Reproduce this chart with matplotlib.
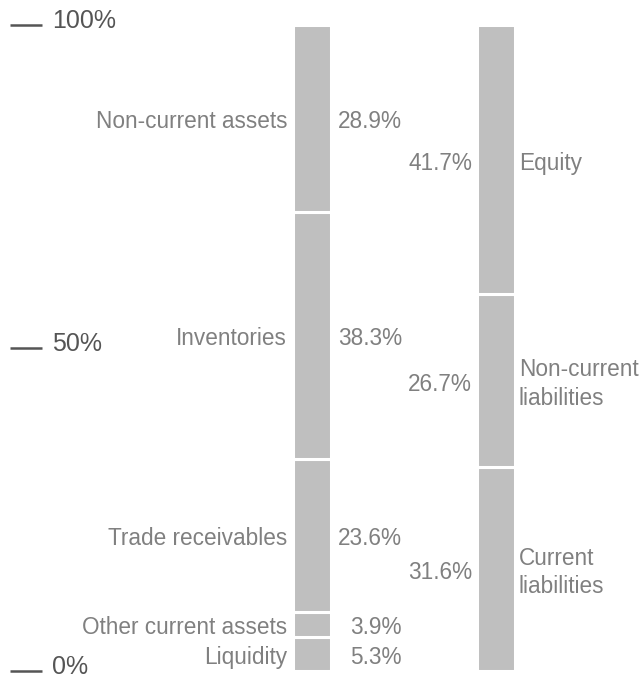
import matplotlib
matplotlib.use("Agg")
import matplotlib.pyplot as plt

# balance sheet structure (percent of total)
assets = ["Liquidity", "Other current assets", "Trade receivables", "Inventories", "Non-current assets"]
asset_vals = [5.3, 3.9, 23.6, 38.3, 28.9]
liabs = ["Current\nliabilities", "Non-current\nliabilities", "Equity"]
liab_vals = [31.6, 26.7, 41.7]
yticks = [0, 50, 100]
ytick_labels = ["0%", "50%", "100%"]

plt.rcParams['font.family'] = ['Liberation Sans', 'DejaVu Sans']

fig = plt.figure(figsize=(6.41, 6.76), dpi=100)
ax = fig.add_axes([0, 5 / 676, 1, 646 / 676])
ax.set_xlim(0, 641)
ax.set_ylim(0, 100)
ax.axis("off")

bar_col = "#bfbfbf"
txt_col = "#808080"
tick_col = "#555555"
fs = 16.3


def label(x, y, s, ha, **kw):
    # text shifted slightly down, as in the reference
    ax.annotate(s, (x, y), xytext=(0, -2.5), textcoords="offset points",
                ha=ha, va="center", fontsize=fs, color=txt_col, **kw)


# left bar: assets
bottom = 0
for name, v in zip(assets, asset_vals):
    ax.bar(312, v, width=38, bottom=bottom, color=bar_col, edgecolor="white", linewidth=2.2)
    mid = bottom + v / 2
    label(287, mid, name, "right")
    label(402, mid, f"{v:.1f}%", "right")
    bottom += v

# right bar: liabilities and equity
bottom = 0
for name, v in zip(liabs, liab_vals):
    ax.bar(495.5, v, width=38, bottom=bottom, color=bar_col, edgecolor="white", linewidth=2.2)
    mid = bottom + v / 2
    label(472, mid, f"{v:.1f}%", "right")
    label(519, mid, name, "left", linespacing=1.3)
    bottom += v

# axis ticks as dashes
for t, lab in zip(yticks, ytick_labels):
    ax.plot([10, 42], [t, t], color=tick_col, lw=1.8, clip_on=False, solid_capstyle="butt")
    ax.annotate(lab, (52, t), xytext=(0, 3), textcoords="offset points",
                ha="left", va="center", fontsize=18, color=tick_col)

fig.savefig("out.png", dpi=100)
